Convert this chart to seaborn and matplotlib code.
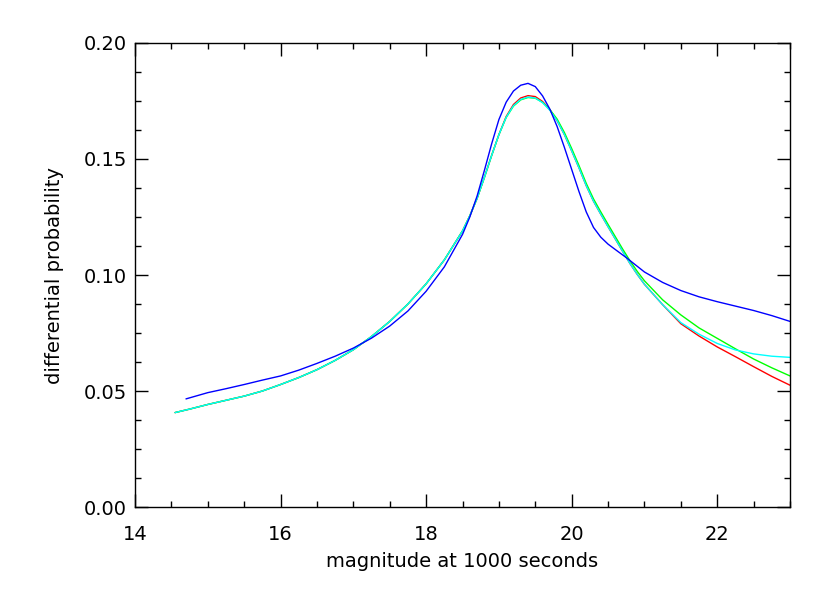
#setup
import numpy as np
import pandas as pd
import matplotlib
matplotlib.use("Agg")
import matplotlib.pyplot as plt
from matplotlib.ticker import MultipleLocator, FormatStrFormatter
import seaborn as sns

#values
#common grid for the red, green and cyan curves
mag = [14.55, 14.75, 15.0, 15.25, 15.5, 15.75, 16.0, 16.25, 16.5, 16.75,
       17.0, 17.25, 17.5, 17.75, 18.0, 18.25, 18.5, 18.6, 18.7, 18.8,
       18.9, 19.0, 19.1, 19.2, 19.3, 19.4, 19.5, 19.6, 19.7, 19.8,
       19.9, 20.0, 20.1, 20.2, 20.3, 20.4, 20.5, 20.6, 20.7, 20.8,
       20.9, 21.0, 21.25, 21.5, 21.75, 22.0, 22.25, 22.5, 22.75, 23.0]
cyan_prob = [0.0407, 0.0422, 0.0442, 0.0460, 0.0478, 0.0500, 0.0528, 0.0558, 0.0592, 0.0632,
             0.0678, 0.0735, 0.0800, 0.0875, 0.0962, 0.1065, 0.1190, 0.1255, 0.1330, 0.1420,
             0.1515, 0.1605, 0.1680, 0.1730, 0.1757, 0.1767, 0.1763, 0.1743, 0.1710, 0.1665,
             0.1605, 0.1535, 0.1462, 0.1385, 0.1318, 0.1262, 0.1208, 0.1155, 0.1102, 0.1050,
             0.1003, 0.0960, 0.0872, 0.0795, 0.0745, 0.0705, 0.0677, 0.0660, 0.0650, 0.0645]
red_prob = [0.0407, 0.0422, 0.0442, 0.0460, 0.0478, 0.0500, 0.0528, 0.0558, 0.0592, 0.0632,
            0.0678, 0.0735, 0.0800, 0.0875, 0.0962, 0.1065, 0.1190, 0.1255, 0.1330, 0.1420,
            0.1515, 0.1605, 0.1683, 0.1735, 0.1763, 0.1773, 0.1769, 0.1748, 0.1713, 0.1665,
            0.1605, 0.1535, 0.1462, 0.1385, 0.1318, 0.1262, 0.1208, 0.1155, 0.1102, 0.1050,
            0.1003, 0.0960, 0.0872, 0.0790, 0.0737, 0.0690, 0.0648, 0.0605, 0.0563, 0.0525]
green_prob = [0.0407, 0.0422, 0.0442, 0.0460, 0.0478, 0.0500, 0.0528, 0.0558, 0.0592, 0.0632,
              0.0678, 0.0735, 0.0800, 0.0875, 0.0962, 0.1065, 0.1190, 0.1255, 0.1330, 0.1420,
              0.1515, 0.1605, 0.1679, 0.1728, 0.1755, 0.1765, 0.1762, 0.1744, 0.1713, 0.1672,
              0.1614, 0.1545, 0.1472, 0.1395, 0.1328, 0.1272, 0.1218, 0.1165, 0.1112, 0.1062,
              0.1016, 0.0975, 0.0893, 0.0828, 0.0772, 0.0727, 0.0682, 0.0638, 0.0600, 0.0565]
#blue curve has its own grid
mag_blue = [14.7, 15.0, 15.25, 15.5, 15.75, 16.0, 16.25, 16.5, 16.75, 17.0,
            17.25, 17.5, 17.75, 18.0, 18.25, 18.5, 18.6, 18.7, 18.8, 18.9,
            19.0, 19.1, 19.2, 19.3, 19.4, 19.5, 19.6, 19.7, 19.8, 19.9,
            20.0, 20.1, 20.2, 20.3, 20.4, 20.5, 20.62, 20.75, 21.0, 21.25,
            21.5, 21.75, 22.0, 22.25, 22.5, 22.75, 23.0]
blue_prob = [0.0466, 0.0493, 0.0510, 0.0528, 0.0547, 0.0565, 0.0590, 0.0619, 0.0650, 0.0685,
             0.0728, 0.0780, 0.0845, 0.0930, 0.1035, 0.1175, 0.1250, 0.1340, 0.1450, 0.1565,
             0.1670, 0.1745, 0.1793, 0.1818, 0.1826, 0.1812, 0.1772, 0.1715, 0.1640, 0.1550,
             0.1455, 0.1360, 0.1272, 0.1205, 0.1163, 0.1133, 0.1105, 0.1075, 0.1013, 0.0968,
             0.0933, 0.0906, 0.0885, 0.0866, 0.0847, 0.0825, 0.0800]

sns.set_style("ticks")
plt.rcParams['font.family'] = ['DejaVu Sans']
plt.rcParams['text.color'] = 'black'
plt.rcParams['axes.labelcolor'] = 'black'
plt.rcParams['xtick.color'] = 'black'
plt.rcParams['ytick.color'] = 'black'

fig = plt.figure(figsize=(8.3, 5.93), dpi=100)
ax = fig.add_axes([0.1627, 0.145, 0.7891, 0.7825])

#draw order: red under green under cyan, blue on top
sns.lineplot(x=mag, y=red_prob, color="#ff0000", lw=1.0, sort=False, ax=ax)
sns.lineplot(x=mag, y=green_prob, color="#00ff00", lw=1.0, sort=False, ax=ax)
sns.lineplot(x=mag, y=cyan_prob, color="#00ffff", lw=1.0, sort=False, ax=ax)
sns.lineplot(x=mag_blue, y=blue_prob, color="#0000ff", lw=1.0, sort=False, ax=ax)

ax.set_xlim(14, 23)
ax.set_ylim(0, 0.20)
ax.xaxis.set_major_locator(MultipleLocator(2))
ax.xaxis.set_minor_locator(MultipleLocator(0.5))
ax.yaxis.set_major_locator(MultipleLocator(0.05))
ax.yaxis.set_minor_locator(MultipleLocator(0.0125))
ax.yaxis.set_major_formatter(FormatStrFormatter("%.2f"))
ax.tick_params(which="both", direction="in", top=True, right=True, color="black",
               labelcolor="black", width=1)
ax.tick_params(which="major", length=9.5, labelsize=14)
ax.tick_params(axis="x", which="major", pad=13)
ax.tick_params(axis="y", which="major", pad=6)
ax.tick_params(which="minor", length=4.5)
for s in ax.spines.values():
    s.set_color("black")
    s.set_linewidth(1)

ax.set_xlabel("magnitude at 1000 seconds", fontsize=14, labelpad=6, color="black")
ax.set_ylabel("differential probability", fontsize=14, labelpad=14, color="black")

fig.savefig("out.png", dpi=100)
